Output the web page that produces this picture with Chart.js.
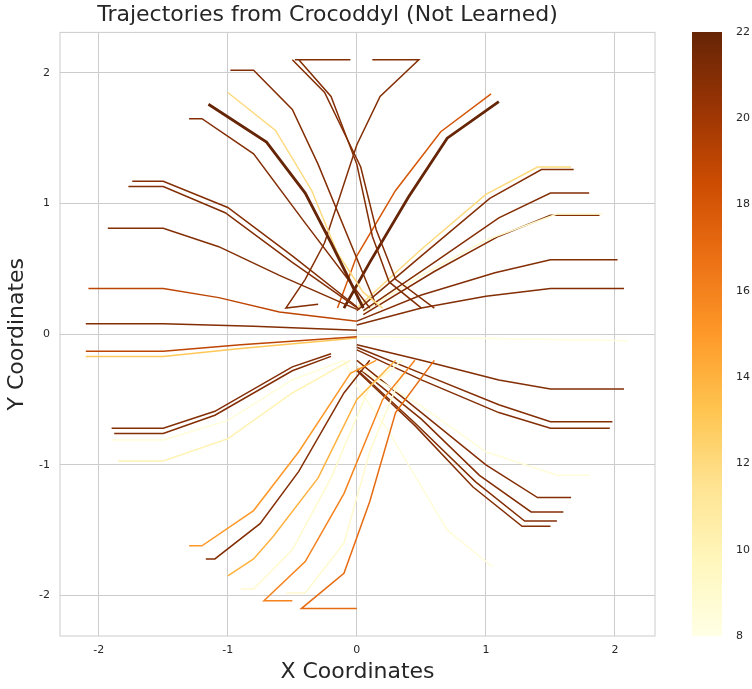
<!DOCTYPE html>
<html><head><meta charset="utf-8">
<script src="https://cdn.jsdelivr.net/npm/chart.js@4"></script>
<style>body{margin:0;background:#fff;width:752px;height:689px;position:relative;overflow:hidden}
#c1{position:absolute;left:0;top:0}#c2{position:absolute;left:680px;top:0}</style>
</head><body>
<canvas id="c1" width="680" height="689"></canvas>
<canvas id="c2" width="72" height="689"></canvas>
<script>
// trajectories: [x,y] points and colour value (8..22)
const trajValues = [21,21,21,19,21,22,12,21,21,21,21,
  18,22,12,21,21,9,21,21,21,21,
  19,13,21,21,8.5,10,15,21,14,9,16,17,9,
  21,21,21,8.5,21,21,21,21,8.5,8.3];
const trajWidths = [1.5,1.5,1.5,1.5,1.5,2.8,1.5,1.5,1.5,1.5,1.5,
  1.5,2.8,1.5,1.5,1.5,1.5,1.5,1.5,1.5,1.5,
  1.5,1.5,1.5,1.5,1.5,1.5,1.5,1.5,1.5,1.5,1.5,1.5,1.5,
  1.5,1.5,1.5,1.5,1.5,1.5,1.5,1.5,1.5,1.5];
const trajPoints = [
 [[-1.74,1.17],[-1.5,1.17],[-1.0,0.97],[-0.5,0.6],[0.0,0.21]],
 [[-1.77,1.13],[-1.5,1.13],[-1.02,0.93],[-0.5,0.55],[0.02,0.19]],
 [[-1.93,0.81],[-1.5,0.81],[-1.07,0.67],[-0.6,0.45],[0.0,0.19]],
 [[-2.08,0.35],[-1.5,0.35],[-1.07,0.28],[-0.6,0.17],[0.0,0.1]],
 [[-2.1,0.08],[-1.5,0.08],[-0.8,0.06],[0.0,0.03]],
 [[-1.15,1.76],[-0.7,1.47],[-0.4,1.08],[-0.2,0.7],[0.05,0.2]],
 [[-1.0,1.85],[-0.63,1.56],[-0.35,1.1],[-0.15,0.62],[0.05,0.32],[0.2,0.2]],
 [[-1.3,1.65],[-1.2,1.65],[-0.8,1.38],[-0.4,0.85],[0.1,0.2]],
 [[-0.98,2.02],[-0.8,2.02],[-0.5,1.72],[-0.3,1.3],[0.15,0.22]],
 [[-0.48,2.1],[-0.05,2.1],[-0.45,2.1],[-0.2,1.82],[0.0,1.3],[0.12,0.75],[0.25,0.4],[0.5,0.2]],
 [[-0.5,2.1],[-0.25,1.85],[0.03,1.28],[0.15,0.8],[0.3,0.42],[0.6,0.2]],
 [[1.04,1.84],[0.65,1.55],[0.3,1.1],[0.0,0.6],[-0.15,0.2]],
 [[1.1,1.78],[0.7,1.5],[0.4,1.05],[0.1,0.55],[-0.1,0.2]],
 [[1.66,1.28],[1.4,1.28],[1.0,1.07],[0.5,0.65],[0.0,0.2]],
 [[1.68,1.26],[1.43,1.26],[1.03,1.04],[0.5,0.6],[0.0,0.18]],
 [[1.8,1.08],[1.5,1.08],[1.1,0.89],[0.6,0.55],[0.05,0.18]],
 [[1.9,0.92],[1.55,0.92],[1.0,0.72],[0.5,0.45],[0.05,0.17]],
 [[1.88,0.91],[1.5,0.91],[1.1,0.75],[0.6,0.48],[0.05,0.15]],
 [[2.02,0.57],[1.5,0.57],[1.07,0.47],[0.5,0.3],[0.0,0.1]],
 [[2.07,0.35],[1.5,0.35],[1.0,0.29],[0.5,0.2],[0.0,0.07]],
 [[0.12,2.1],[0.48,2.1],[0.18,1.82],[0.0,1.45],[-0.25,0.7],[-0.4,0.42],[-0.55,0.2],[-0.3,0.23]],
 [[-2.1,-0.13],[-1.5,-0.13],[-0.9,-0.08],[0.0,-0.02]],
 [[-2.1,-0.17],[-1.5,-0.17],[-0.9,-0.11],[0.0,-0.03]],
 [[-1.9,-0.72],[-1.5,-0.72],[-1.1,-0.59],[-0.5,-0.25],[-0.2,-0.15]],
 [[-1.88,-0.76],[-1.5,-0.76],[-1.1,-0.62],[-0.5,-0.28],[-0.2,-0.17]],
 [[-1.9,-0.81],[-1.5,-0.81],[-1.0,-0.66],[-0.5,-0.35],[-0.1,-0.2]],
 [[-1.85,-0.97],[-1.5,-0.97],[-1.0,-0.8],[-0.5,-0.45],[-0.05,-0.2]],
 [[-1.3,-1.62],[-1.2,-1.62],[-0.8,-1.35],[-0.45,-0.9],[-0.05,-0.3],[0.15,-0.2]],
 [[-1.17,-1.72],[-1.1,-1.72],[-0.75,-1.45],[-0.45,-1.05],[-0.1,-0.45],[0.1,-0.2]],
 [[-1.0,-1.85],[-0.8,-1.72],[-0.65,-1.55],[-0.3,-1.1],[0.0,-0.5],[0.3,-0.2]],
 [[-0.9,-1.95],[-0.8,-1.95],[-0.5,-1.65],[-0.2,-1.1],[0.1,-0.4],[0.35,-0.2]],
 [[-0.5,-2.04],[-0.72,-2.04],[-0.4,-1.74],[-0.1,-1.22],[0.2,-0.5],[0.45,-0.2]],
 [[0.0,-2.1],[-0.43,-2.1],[-0.1,-1.83],[0.1,-1.28],[0.3,-0.6],[0.6,-0.2]],
 [[-0.55,-1.98],[-0.4,-1.98],[-0.1,-1.6],[0.1,-0.9],[0.35,-0.3]],
 [[2.07,-0.42],[1.5,-0.42],[1.1,-0.35],[0.5,-0.2],[0.0,-0.08]],
 [[1.98,-0.67],[1.5,-0.67],[1.1,-0.54],[0.5,-0.3],[0.0,-0.1]],
 [[1.96,-0.72],[1.5,-0.72],[1.1,-0.6],[0.5,-0.35],[0.0,-0.12]],
 [[1.8,-1.08],[1.55,-1.08],[1.0,-0.9],[0.5,-0.55],[0.0,-0.25]],
 [[1.66,-1.25],[1.4,-1.25],[1.0,-1.0],[0.5,-0.6],[0.0,-0.2]],
 [[1.6,-1.36],[1.35,-1.36],[0.95,-1.08],[0.5,-0.65],[0.0,-0.25]],
 [[1.55,-1.43],[1.3,-1.43],[0.92,-1.13],[0.45,-0.68],[0.0,-0.27]],
 [[1.5,-1.47],[1.28,-1.47],[0.9,-1.17],[0.45,-0.7],[0.0,-0.28]],
 [[1.05,-1.78],[0.7,-1.5],[0.25,-0.75],[0.0,-0.4],[-0.1,-0.2]],
 [[2.1,-0.05],[1.5,-0.04],[0.8,-0.03],[0.0,-0.02]]
];
const xTicks=[-2,-1,0,1,2], yTicks=[-2,-1,0,1,2];
const cbTicks=[8,10,12,14,16,18,20,22];

const stops=['#ffffe5','#fff7bc','#fee391','#fec44f','#fe9929','#ec7014','#cc4c02','#993404','#662506'];
function hex(h){return [1,3,5].map(i=>parseInt(h.substr(i,2),16));}
function cmap(v){let t=Math.max(0,Math.min(1,(v-8)/14))*8;let i=Math.min(7,Math.floor(t)),f=t-i;
 const a=hex(stops[i]),b=hex(stops[i+1]);return 'rgb('+a.map((c,k)=>Math.round(c+(b[k]-c)*f)).join(',')+')';}

const frame={id:'frame',afterDraw(c){const a=c.chartArea,x=c.ctx;x.save();x.strokeStyle='#cccccc';x.lineWidth=1;x.strokeRect(a.left,a.top,a.right-a.left,a.bottom-a.top);x.restore();}};
const FF='DejaVu Sans';
new Chart(document.getElementById('c1'),{type:'scatter',
 data:{datasets:trajPoints.map((p,i)=>({data:p.map(q=>({x:q[0],y:q[1]})),showLine:true,pointRadius:0,
   borderColor:cmap(trajValues[i]),borderWidth:trajWidths[i],tension:0}))},
 options:{responsive:false,animation:false,devicePixelRatio:1,
  layout:{padding:{right:25}},
  plugins:{legend:{display:false},tooltip:{enabled:false},
   title:{display:true,text:'Trajectories from Crocoddyl (Not Learned)',color:'#262626',font:{family:FF,size:22,weight:'normal'},padding:{top:2,bottom:4}}},
  scales:{
   x:{type:'linear',min:-2.3,max:2.31,afterBuildTicks(s){s.ticks=xTicks.map(v=>({value:v}));},
    afterFit(s){s.height=53;},
    grid:{color:'#cccccc',drawTicks:false},border:{display:false},
    ticks:{color:'#262626',font:{family:FF,size:11},padding:8},
    title:{display:true,text:'X Coordinates',color:'#262626',font:{family:FF,size:22},padding:{top:2}}},
   y:{type:'linear',min:-2.31,max:2.31,afterBuildTicks(s){s.ticks=yTicks.map(v=>({value:v}));},
    afterFit(s){s.width=60;},
    grid:{color:'#cccccc',drawTicks:false},border:{display:false},
    ticks:{color:'#262626',font:{family:FF,size:11},padding:10},
    title:{display:true,text:'Y Coordinates',color:'#262626',font:{family:FF,size:22},padding:{bottom:0}}}}},
 plugins:[frame]});

const grad={id:'grad',beforeDatasetsDraw(c){const a=c.chartArea,x=c.ctx;const g=x.createLinearGradient(0,a.bottom,0,a.top);
 stops.forEach((s,i)=>g.addColorStop(i/8,s));x.fillStyle=g;x.fillRect(a.left,a.top,a.right-a.left,a.bottom-a.top);}};
new Chart(document.getElementById('c2'),{type:'scatter',data:{datasets:[{data:[]}]},
 options:{responsive:false,animation:false,devicePixelRatio:1,layout:{padding:{left:12,top:32,bottom:53}},
  plugins:{legend:{display:false},tooltip:{enabled:false}},
  scales:{x:{display:false,min:0,max:1},
   y:{position:'right',min:8,max:22,afterBuildTicks(s){s.ticks=cbTicks.map(v=>({value:v}));},afterFit(s){s.width=30;},
    grid:{display:false},border:{display:false},
    ticks:{color:'#262626',font:{family:FF,size:11},padding:6}}}},
 plugins:[grad]});
</script></body></html>
